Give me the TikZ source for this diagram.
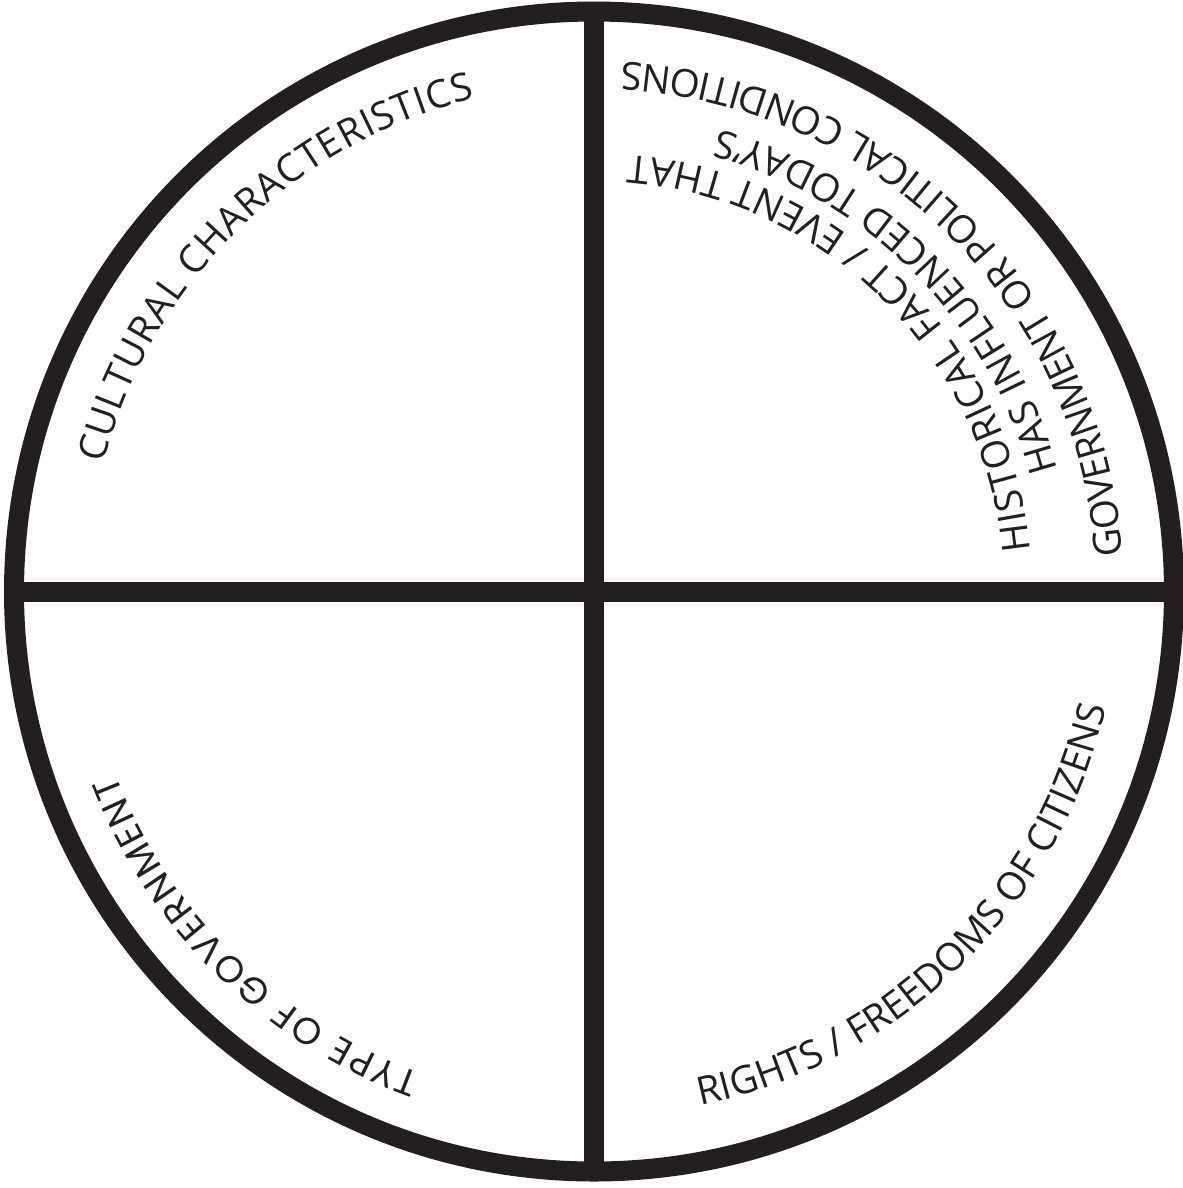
\documentclass[tikz,border=0pt]{standalone}
\usepackage{fontspec}
\setmainfont{Open Sans}
\newfontfamily\geofont{Poppins}
\usetikzlibrary{calc,decorations.text}
\definecolor{ink}{HTML}{231F20}

\newcommand{\qfont}{\fontsize{11pt}{13pt}\selectfont}
\newcommand{\gfont}{\fontsize{10.6pt}{13pt}\geofont}

\begin{document}
\begin{tikzpicture}[
  ink line/.style={draw=ink, line width=0.2cm},
  arc label/.style={decorate, decoration={text along path, text align={fit to path}, text color=ink, text={#1}}}
]
\useasboundingbox (0,0) rectangle (11.83,-11.88);
\coordinate (c) at (5.94,-5.915);
\coordinate (top) at ($(c)+(90:5.8)$);
\coordinate (bottom) at ($(c)+(-90:5.8)$);
\coordinate (left) at ($(c)+(180:5.8)$);
\coordinate (right) at ($(c)+(0:5.8)$);

% wheel
\draw[ink line] (c) circle (5.8);
\draw[ink line] (top) -- (bottom);
\draw[ink line] (left) -- (right);

% upper left
\path[arc label={|\qfont|CULTURAL CHARACTERISTICS}]
  ($(c)+(165.4:5.07)$) arc[start angle=165.4, end angle=103.6, radius=5.07];

% upper right, three lines
\path[arc label={|\qfont|HISTORICAL FACT / EVENT THAT}]
  ($(c)+(5.4:4.38)$) arc[start angle=5.4, end angle=85.3, radius=4.38];
\path[arc label={|\qfont|HAS INFLUENCED TODAY'S}]
  ($(c)+(14.7:4.79)$) arc[start angle=14.7, end angle=74.8, radius=4.79];
\path[arc label={|\qfont|GOVERNMENT OR POLITICAL CONDITIONS}]
  ($(c)+(3.9:5.30)$) arc[start angle=3.9, end angle=85.9, radius=5.30];

% lower left
\path[arc label={|\gfont|TYPE OF GOVERNMENT}]
  ($(c)+(250.2:5.12)$) arc[start angle=250.2, end angle=200.9, radius=5.12];

% lower right
\path[arc label={|\qfont|RIGHTS / FREEDOMS OF CITIZENS}]
  ($(c)+(-78.3:5.25)$) arc[start angle=-78.3, end angle=-13.5, radius=5.25];
\end{tikzpicture}
\end{document}
